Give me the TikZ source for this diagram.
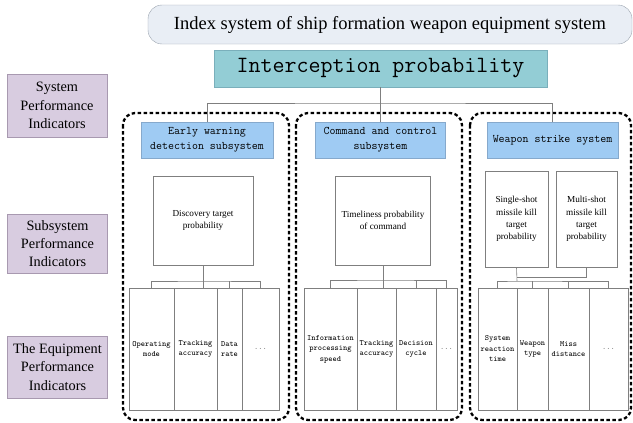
\documentclass[tikz,border=0pt]{standalone}
\usepackage{fontspec}
\setmainfont{Liberation Serif}
\definecolor{titleF}{HTML}{E9EEF5}
\definecolor{titleB}{HTML}{9AA3AE}
\definecolor{intF}{HTML}{93CDD5}
\definecolor{intB}{HTML}{7AAFBB}
\definecolor{hdrF}{HTML}{9FCBF3}
\definecolor{hdrB}{HTML}{86A9CC}
\definecolor{purF}{HTML}{D8CCE0}
\definecolor{purB}{HTML}{A899B0}
\definecolor{lineC}{HTML}{7F7F7F}
\begin{document}
\begin{tikzpicture}[x=1pt,y=-1pt,
  lab/.style={draw=purB, fill=purF, align=center, inner sep=0pt,
    font=\fontsize{14.3}{18.3}\selectfont, minimum width=100pt},
  hdr/.style={draw=hdrB, fill=hdrF, align=center, inner sep=0pt,
    font=\ttfamily\fontsize{11.6}{15}\selectfont, minimum height=36pt},
  wbox/.style={draw=lineC, fill=white, align=center, inner sep=0pt,
    font=\fontsize{9.2}{12.3}\selectfont},
  cell/.style={draw=lineC, fill=white, align=center, inner sep=0pt,
    font=\ttfamily\fontsize{8}{10.5}\selectfont, minimum height=122pt},
  conn/.style={draw=lineC, line width=0.6pt},
  grp/.style={draw=black, line width=2.3pt, dash pattern=on 3.5pt off 2.5pt,
    rounded corners=12pt}]
\useasboundingbox (0,0) rectangle (633,423);

% group frames
\draw[grp] (123,113) rectangle (289,420);
\draw[grp] (296,113) rectangle (462,420);
\draw[grp] (470,113) rectangle (631,420);

% title and top
\node[draw=titleB, fill=titleF, rounded corners=14pt, minimum width=484pt,
  minimum height=39pt, inner sep=0pt, font=\fontsize{18.5}{22}\selectfont]
  (title) at (390,24.5) {Index system of ship formation weapon equipment system};
\node[draw=intB, fill=intF, minimum width=333pt, minimum height=37pt, inner sep=0pt,
  font=\ttfamily\fontsize{23.3}{26}\selectfont] (interc) at (380.5,68.5) {Interception probability};

% left labels
\node[lab, minimum height=63pt] (sys) at (57,105.5) {System\\Performance\\Indicators};
\node[lab, minimum height=59pt] (sub) at (57.5,243.5) {Subsystem\\Performance\\Indicators};
\node[lab, minimum height=62pt] (eqp) at (57.5,367) {The Equipment\\Performance\\Indicators};

% subsystem headers
\node[hdr, minimum width=132pt] (early) at (207,140) {Early warning\\detection subsystem};
\node[hdr, minimum width=130pt] (command) at (380.5,140) {Command and control\\subsystem};
\node[hdr, minimum width=131pt] (weapon) at (552.5,140) {Weapon strike system};

% subsystem indicators
\node[wbox, minimum width=100pt, minimum height=89pt] (disc) at (203,220.5) {Discovery target\\probability};
\node[wbox, minimum width=95pt, minimum height=89pt] (time) at (383,220.5) {Timeliness probability\\of command};
\node[wbox, minimum width=63pt, minimum height=96pt] (single) at (516.5,219) {Single-shot\\missile kill\\target\\probability};
\node[wbox, minimum width=61pt, minimum height=96pt] (multi) at (586.5,219) {Multi-shot\\missile kill\\target\\probability};

% equipment cells
\node[cell, minimum width=45pt] (e11) at (151.5,349) {Operating\\mode};
\node[cell, minimum width=43pt] (e12) at (195.5,349) {Tracking\\accuracy};
\node[cell, minimum width=25pt] (e13) at (229.5,349) {Data\\rate};
\node[cell, minimum width=37pt] (e14) at (260.5,349) {\textcolor{gray}{...}};

\node[cell, minimum width=53pt] (e21) at (330.5,349) {Information\\processing\\speed};
\node[cell, minimum width=39pt] (e22) at (376.5,349) {Tracking\\accuracy};
\node[cell, minimum width=40pt] (e23) at (416,349) {Decision\\cycle};
\node[cell, minimum width=21pt] (e24) at (446.5,349) {\textcolor{gray}{...}};

\node[cell, minimum width=39pt] (e31) at (497.5,349) {System\\reaction\\time};
\node[cell, minimum width=31pt] (e32) at (532.5,349) {Weapon\\type};
\node[cell, minimum width=41pt] (e33) at (568.5,349) {Miss\\distance};
\node[cell, minimum width=39pt] (e34) at (608.5,349) {\textcolor{gray}{...}};

% top-level connectors
\coordinate (j0) at (380.5,103);
\draw[conn] (interc.south) -- (command.north);
\draw[conn] (early.north) |- (j0) -| (weapon.north);

% column 1
\coordinate (h1) at (203,281);
\draw[conn] (disc.south) -- (disc.south |- e12.north);
\draw[conn] (e11.north) |- (h1) -| (e14.north);
\draw[conn] (e13.north) -- (e13.north |- h1);

% column 2
\coordinate (h2) at (383,280);
\draw[conn] (time.south) -- (time.south |- e22.north);
\draw[conn] (e21.north) |- (h2) -| (e24.north);
\draw[conn] (e23.north) -- (e23.north |- h2);

% column 3
\coordinate (h3a) at (517,277);
\coordinate (h3b) at (517,281);
\draw[conn] (single.south) -- (h3b);
\draw[conn] (h3a) -| (multi.south);
\draw[conn] (e31.north) |- (h3b) -| (e34.north);
\draw[conn] (e32.north) -- (e32.north |- h3b);
\draw[conn] (e33.north) -- (e33.north |- h3b);
\end{tikzpicture}
\end{document}
